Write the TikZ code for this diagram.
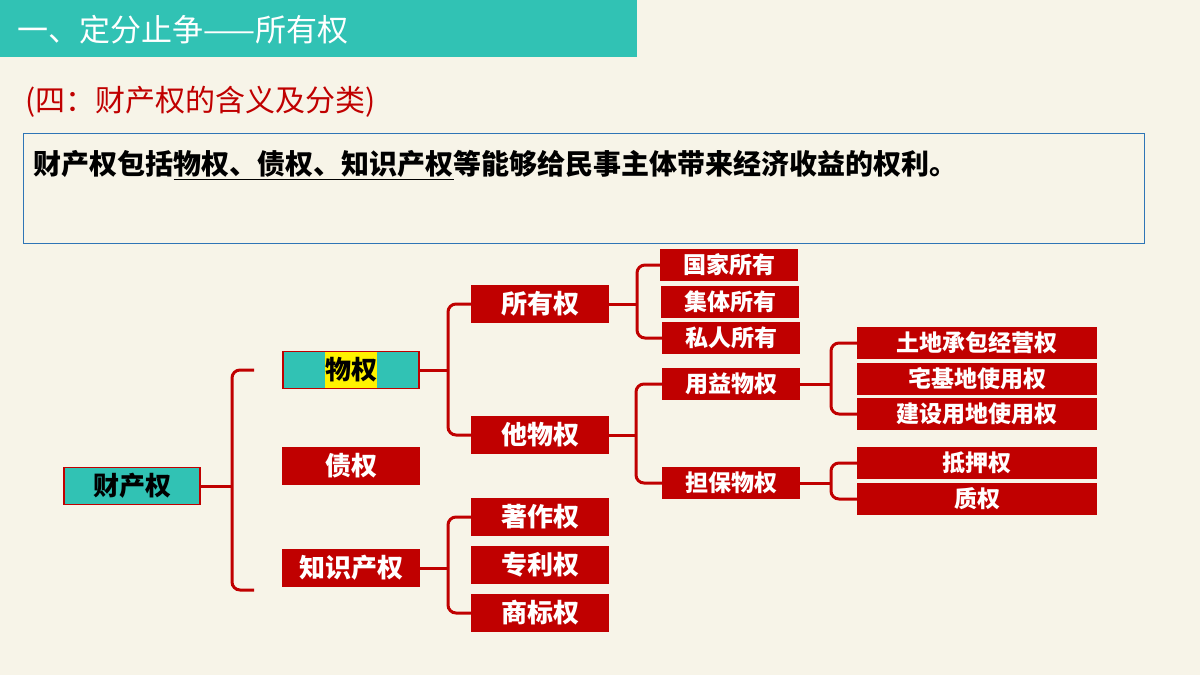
\documentclass[tikz,border=0pt]{standalone}
\usepackage{fontspec}
\setmainfont{Noto Sans CJK SC}
\usetikzlibrary{positioning}
\definecolor{bg}{HTML}{F7F4E8}
\definecolor{teal}{HTML}{31C2B4}
\definecolor{hong}{HTML}{C00000}
\definecolor{kuang}{HTML}{2E75B6}
\tikzset{hbox/.style={draw=hong, fill=hong, text=white, font=\bfseries\fontsize{26}{28}\selectfont,
  minimum height=37, inner sep=0pt, line width=1.5pt},
  tbox/.style={hbox, fill=teal, text=black},
  brk/.style={draw=hong, line width=3pt, rounded corners=8}}
\begin{document}
\begin{tikzpicture}[x=1pt, y=-1pt]
\useasboundingbox[fill=bg] (0,0) rectangle (1200,675);
% title
\fill[teal] (0,0) rectangle (637,57);
\node[anchor=west, text=white, font=\fontsize{31}{34}\selectfont] (title) at (14,30) {一、定分止争——所有权};
\node[anchor=west, text=hong, font=\fontsize{30}{34}\selectfont] (sub) at (22,102) {(四：财产权的含义及分类)};
\draw[kuang, line width=1pt, fill=bg] (23,133) rectangle (1144,243);
\node[anchor=west, font=\bfseries\fontsize{28}{30}\selectfont] (def) at (30,165)
  {财产权包括\underline{物权、债权、知识产权}等能够给民事主体带来经济收益的权利。};
% tree
\node[tbox, minimum width=136] (ccq) at (132,486) {财产权};
\node[tbox, minimum width=136] (wq) at (351,370) {\fboxsep=0pt\colorbox{yellow}{\rule[-9pt]{0pt}{36pt}物权}};
\node[hbox, minimum width=136] (zq) at (351,466) {债权};
\node[hbox, minimum width=136] (zscq) at (351,568) {知识产权};
\node[hbox, minimum width=136] (syq) at (540,304) {所有权};
\node[hbox, minimum width=136] (twq) at (540,435) {他物权};
\node[hbox, minimum width=136] (zzq) at (540,517) {著作权};
\node[hbox, minimum width=136] (zlq) at (540,565) {专利权};
\node[hbox, minimum width=136] (sbq) at (540,613) {商标权};
\node[hbox, minimum width=137, minimum height=31, font=\bfseries\fontsize{23}{25}\selectfont] (gj) at (729,265) {国家所有};
\node[hbox, minimum width=137, minimum height=31, font=\bfseries\fontsize{23}{25}\selectfont] (jt) at (730,302) {集体所有};
\node[hbox, minimum width=137, minimum height=31, font=\bfseries\fontsize{23}{25}\selectfont] (sr) at (731,338) {私人所有};
\node[hbox, minimum width=137, minimum height=31, font=\bfseries\fontsize{23}{25}\selectfont] (yy) at (731,384) {用益物权};
\node[hbox, minimum width=137, minimum height=31, font=\bfseries\fontsize{23}{25}\selectfont] (db) at (731,483) {担保物权};
\node[hbox, minimum width=238, minimum height=31, font=\bfseries\fontsize{23}{25}\selectfont] (td) at (977,343) {土地承包经营权};
\node[hbox, minimum width=238, minimum height=31, font=\bfseries\fontsize{23}{25}\selectfont] (zj) at (977,379) {宅基地使用权};
\node[hbox, minimum width=238, minimum height=31, font=\bfseries\fontsize{23}{25}\selectfont] (js) at (977,414) {建设用地使用权};
\node[hbox, minimum width=238, minimum height=31, font=\bfseries\fontsize{23}{25}\selectfont] (dy) at (977,463) {抵押权};
\node[hbox, minimum width=238, minimum height=31, font=\bfseries\fontsize{23}{25}\selectfont] (zhi) at (977,499) {质权};
% braces
\coordinate (k1) at (254,370);
\coordinate (k2) at (254,590);
\draw[brk] (ccq.east) -- ++(32,0);
\draw[brk] (k1) -| (232,486) |- (k2);
\draw[brk] (wq.east) -- ++(28,0);
\draw[brk] (syq.west) -| (448,370) |- (twq.west);
\draw[brk] (zscq.east) -- ++(28,0);
\draw[brk] (zzq.west) -| (448,568) |- (sbq.west);
\draw[brk] (syq.east) -- ++(28,0);
\draw[brk] (gj.west) -| (637,304) |- (sr.west);
\draw[brk] (twq.east) -- ++(27,0);
\draw[brk] (yy.west) -| (636,435) |- (db.west);
\draw[brk] (yy.east) -- ++(31,0);
\draw[brk] (td.west) -| (831,384) |- (js.west);
\draw[brk] (db.east) -- ++(31,0);
\draw[brk] (dy.west) -| (831,483) |- (zhi.west);
\end{tikzpicture}
\end{document}
